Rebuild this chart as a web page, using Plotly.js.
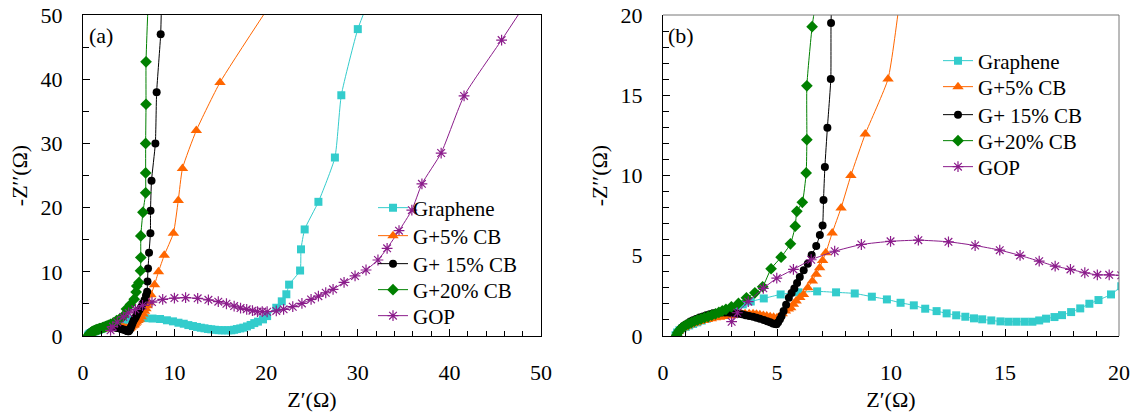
<!DOCTYPE html>
<html><head><meta charset="utf-8">
<script src="https://cdn.plot.ly/plotly-3.0.1.min.js"></script>
<style>html,body{margin:0;padding:0;background:#fff}#chart{width:1134px;height:416px}</style>
</head><body><div id="chart"></div>
<script>
// ---- data ----
const seriesNames = ['Graphene', 'G+5% CB', 'G+ 15% CB', 'G+20% CB', 'GOP'];

const grapheneX = [0.55,0.62,0.72,0.85,1.0,1.15,1.32,1.5,1.7,1.92,2.15,2.4,2.65,2.9,3.2,3.5,3.85,4.42,5.16,5.94,6.76,7.59,8.41,9.16,9.82,10.42,11.0,11.5,12.0,12.44,12.86,13.26,13.64,14.0,14.4,14.8,15.15,15.5,15.86,16.2,16.5,16.8,17.17,17.5,17.9,18.3,18.7,19.1,19.65,20.1,21.1,21.7,22.2,22.5,23.7,23.8,24.2,25.7,27.5,28.2,30.0,31.0];
const grapheneY = [0.05,0.22,0.36,0.47,0.57,0.66,0.75,0.85,0.96,1.07,1.19,1.32,1.45,1.6,1.78,1.97,2.15,2.34,2.59,2.72,2.78,2.72,2.65,2.45,2.28,2.07,1.91,1.7,1.55,1.41,1.29,1.2,1.1,1.04,0.97,0.91,0.89,0.89,0.89,0.89,0.97,1.08,1.18,1.3,1.49,1.72,2.01,2.24,2.59,3.1,4.4,5.4,6.5,8.0,10.2,13.5,16.6,20.9,27.8,37.5,47.8,51.5];

const cb5X = [0.55,0.6,0.68,0.78,0.9,1.02,1.15,1.3,1.45,1.6,1.77,1.95,2.12,2.3,2.48,2.66,2.84,3.0,3.15,3.3,3.45,3.6,3.78,3.95,4.1,4.25,4.4,4.55,4.7,4.85,5.0,5.1,5.23,5.37,5.5,5.6,5.72,5.84,6.0,6.16,6.35,6.55,6.72,6.87,7.0,7.14,7.42,7.81,8.24,8.87,9.87,10.4,10.86,12.37,14.96,20.3];
const cb5Y = [0,0.15,0.3,0.42,0.52,0.6,0.68,0.76,0.83,0.9,0.97,1.03,1.08,1.13,1.17,1.21,1.24,1.28,1.32,1.35,1.37,1.38,1.39,1.39,1.36,1.32,1.28,1.24,1.2,1.17,1.14,1.2,1.38,1.55,1.68,1.76,1.98,2.18,2.4,2.59,3.0,3.42,3.85,4.25,4.7,5.18,6.42,7.98,10.0,12.58,16.02,21.1,26.1,32.0,39.5,51.3];

const cb15X = [0.6,0.65,0.72,0.8,0.9,1.0,1.1,1.2,1.32,1.45,1.6,1.75,1.9,2.05,2.2,2.37,2.55,2.72,2.88,3.0,3.15,3.3,3.47,3.62,3.78,3.95,4.1,4.25,4.42,4.57,4.7,4.82,4.92,4.98,5.05,5.13,5.2,5.29,5.4,5.52,5.64,5.76,5.88,6.0,6.17,6.35,6.52,6.72,6.88,7.0,7.04,7.1,7.21,7.36,7.37,7.48,7.9,8.04,8.48,8.56];
const cb15Y = [0.02,0.2,0.35,0.5,0.62,0.72,0.8,0.9,0.98,1.06,1.15,1.22,1.3,1.36,1.41,1.45,1.47,1.47,1.46,1.45,1.42,1.39,1.35,1.3,1.25,1.2,1.14,1.07,1.0,0.92,0.85,0.78,0.74,0.73,0.85,1.04,1.25,1.55,1.95,2.38,2.68,2.96,3.3,3.67,4.1,4.5,5.05,5.6,6.3,6.88,8.48,10.53,12.97,16.02,19.5,24.2,30.0,37.96,47.0,51.5];

const cb20X = [0.6,0.65,0.72,0.8,0.9,1.0,1.12,1.25,1.38,1.52,1.67,1.82,1.98,2.14,2.3,2.45,2.6,2.76,3.0,3.31,3.66,4.03,4.37,4.74,5.18,5.59,5.8,5.87,6.11,6.28,6.31,6.31,6.54,6.84,6.84,6.84,6.88,6.88,7.1];
const cb20Y = [0.05,0.2,0.35,0.47,0.58,0.67,0.76,0.84,0.92,1.0,1.07,1.14,1.21,1.3,1.38,1.47,1.56,1.66,1.82,2.03,2.38,2.69,3.07,4.19,4.91,5.74,6.84,7.77,8.33,10.16,12.23,15.59,19.27,22.3,25.4,30.0,36.1,42.7,51.5];

const gopX = [3.01,3.26,3.74,4.4,4.99,5.72,6.5,7.53,8.7,9.98,11.2,12.52,13.69,14.77,15.66,16.5,17.2,17.87,18.5,19.05,19.57,20.1,21.1,21.9,22.9,23.9,24.9,25.7,26.5,27.3,28.5,29.7,30.9,32.2,33.2,34.5,35.9,37.0,39.1,41.6,45.7,48.2];
const gopY = [0.89,1.45,2.14,2.97,3.6,4.15,4.75,5.28,5.7,5.9,5.97,5.87,5.64,5.35,5.02,4.66,4.35,4.15,3.94,3.81,3.81,3.78,3.9,4.15,4.56,5.08,5.7,6.2,6.74,7.27,8.36,9.35,10.28,11.84,13.66,16.4,19.6,23.7,28.5,37.4,46.1,51.5];

const panelXRange = [[0, 50], [0, 20]];
const panelYRange = [[0, 50], [0, 20]];
const xTickLabels = [[0,10,20,30,40,50],[0,5,10,15,20]];
const yTickLabels = [[0,10,20,30,40,50],[0,5,10,15,20]];

// ---- styling ----
const FONT = 'Liberation Serif';
const styles = [
  {color:'#33CCCC', symbol:'square', size:8},
  {color:'#FF6600', symbol:'triangle-up', size:10},
  {color:'#000000', symbol:'circle', size:8},
  {color:'#008000', symbol:'diamond', size:9},
  {color:'#8B1C8B', symbol:'asterisk-open', size:9}
];
const xs = [grapheneX, cb5X, cb15X, cb20X, gopX];
const ys = [grapheneY, cb5Y, cb15Y, cb20Y, gopY];

function legendId(n){ return n === 0 ? 'legend' : 'legend' + (n + 1); }

const traces = [];
[['x','y',0],['x2','y2',5]].forEach(function(p){
  for (let i = 0; i < seriesNames.length; i++) {
    const s = styles[i];
    const open = s.symbol.indexOf('open') >= 0;
    traces.push({
      type:'scatter', mode:'lines+markers', name:seriesNames[i],
      x: xs[i], y: ys[i], xaxis:p[0], yaxis:p[1], legend:legendId(p[2] + i),
      line:{color:s.color, width:1, shape:'spline', smoothing:0.5},
      marker:{color:s.color, symbol:s.symbol, size:s.size,
              line:{color:s.color, width: open ? 1.2 : 0}},
      cliponaxis:true, hoverinfo:'skip'
    });
  }
});

function xAxis(domain, k, anchor){
  return {
    domain:domain, range:panelXRange[k], anchor:anchor,
    tickmode:'array', tickvals:xTickLabels[k], ticktext:xTickLabels[k].map(String),
    ticks:'inside', ticklen:7, tickwidth:1, tickcolor:'#000',
    minor:{dtick: k===0 ? 2 : 1, ticks:'inside', ticklen:5, tickwidth:1, tickcolor:'#000', showgrid:false},
    showline:true, linecolor:'#000', linewidth:1, mirror: k===0,
    showgrid:false, zeroline:false, fixedrange:true,
    ticklabelstandoff:17,
    tickfont:{family:FONT, size:22, color:'#000'},
    title:{text:'Z′(Ω)', standoff:7, font:{family:FONT, size:22, color:'#000'}}
  };
}
function yAxis(domain, k, anchor){
  return {
    domain:domain, range:panelYRange[k], anchor:anchor,
    tickmode:'array', tickvals:yTickLabels[k], ticktext:yTickLabels[k].map(String),
    ticks:'inside', ticklen:7, tickwidth:1, tickcolor:'#000',
    minor:{dtick: k===0 ? 5 : 1, ticks:'inside', ticklen: 6, tickwidth:1, tickcolor:'#000', showgrid:false},
    showline:true, linecolor:'#000', linewidth:1, mirror: k===0,
    showgrid:false, zeroline:false, fixedrange:true,
    ticklabelstandoff:15,
    tickfont:{family:FONT, size:22, color:'#000'},
    title:{text:'-Z′′(Ω)', standoff:6, font:{family:FONT, size:22, color:'#000'}}
  };
}

const W = 1134, H = 416;
const yDom = [1 - 336/H, 1 - 15/H];
const legendFont = {family:FONT, size:21, color:'#000'};

const layout = {
  width:W, height:H, margin:{l:0, r:0, t:0, b:0},
  paper_bgcolor:'#fff', plot_bgcolor:'#fff',
  font:{family:FONT, size:22, color:'#000'},
  showlegend:true,
  xaxis: xAxis([83/W, 541/W], 0, 'y'),
  yaxis: yAxis(yDom, 0, 'x'),
  xaxis2: xAxis([663/W, 1119/W], 1, 'y2'),
  yaxis2: yAxis(yDom, 1, 'x2'),
  shapes:[
    {type:'line', xref:'x2 domain', yref:'y2 domain', x0:0, x1:1, y0:1, y1:1, line:{color:'#777', width:1}},
    {type:'line', xref:'x2 domain', yref:'y2 domain', x0:1, x1:1, y0:0, y1:1, line:{color:'#777', width:1}}
  ],
  annotations:[
    {text:'(a)', xref:'paper', yref:'paper', x:87/W, y:1-35/H, xanchor:'left', yanchor:'middle', showarrow:false, font:{family:FONT, size:22, color:'#000'}},
    {text:'(b)', xref:'paper', yref:'paper', x:666/W, y:1-35/H, xanchor:'left', yanchor:'middle', showarrow:false, font:{family:FONT, size:22, color:'#000'}}
  ]
};

// one single-entry legend per row so the row spacing can follow the reference
const legendRowsLeft = [209, 237, 265, 291, 317];
const legendRowsRight = [62, 88, 116, 142, 168];
for (let i = 0; i < 5; i++) {
  layout[legendId(i)] = {x:373/W, xanchor:'left', y:1-(legendRowsLeft[i]-1)/H, yanchor:'middle',
    bgcolor:'rgba(0,0,0,0)', borderwidth:0, font:legendFont};
  layout[legendId(i + 5)] = {x:938/W, xanchor:'left', y:1-(legendRowsRight[i]-1)/H, yanchor:'middle',
    bgcolor:'rgba(0,0,0,0)', borderwidth:0, font:legendFont};
}

Plotly.newPlot('chart', traces, layout, {staticPlot:true, displayModeBar:false});
</script>
</body></html>
